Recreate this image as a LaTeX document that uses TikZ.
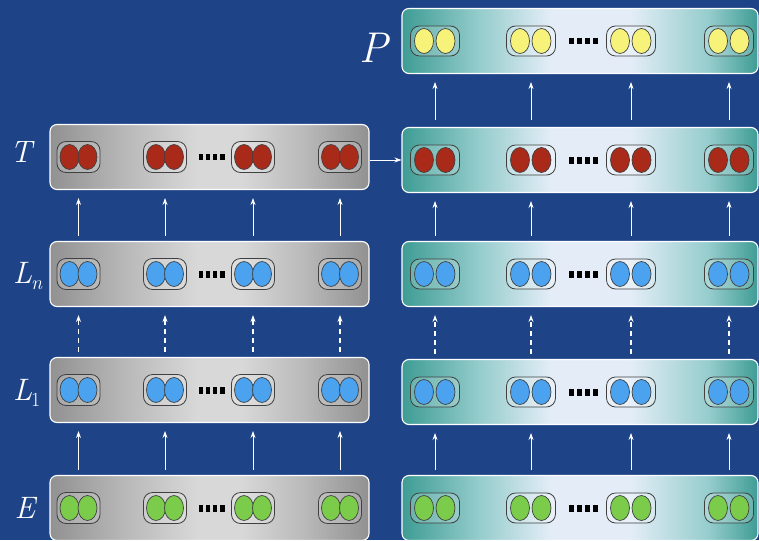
\documentclass[tikz,border=0pt]{standalone}
\usepackage{fontspec}
\usetikzlibrary{arrows.meta,shapes.geometric}
\definecolor{bgc}{RGB}{30,68,135}
\definecolor{grayedge}{RGB}{145,145,145}
\definecolor{graymid2}{RGB}{185,185,185}
\definecolor{graymid}{RGB}{216,216,216}
\definecolor{tealedge}{RGB}{62,156,148}
\definecolor{tealmid}{RGB}{150,205,205}
\definecolor{teallight}{RGB}{228,237,247}
\definecolor{redc}{RGB}{170,42,26}
\definecolor{bluec}{RGB}{75,163,240}
\definecolor{greenc}{RGB}{122,204,74}
\definecolor{yellowc}{RGB}{247,242,122}
\pgfdeclarehorizontalshading{graybar}{100bp}{color(0bp)=(grayedge); color(25bp)=(grayedge); color(37bp)=(graymid2); color(48bp)=(graymid); color(55bp)=(graymid); color(65bp)=(graymid2); color(75bp)=(grayedge); color(100bp)=(grayedge)}
\pgfdeclarehorizontalshading{tealbar}{100bp}{color(0bp)=(tealedge); color(25bp)=(tealedge); color(36bp)=(tealmid); color(46bp)=(teallight); color(57bp)=(teallight); color(68bp)=(tealmid); color(75bp)=(tealedge); color(100bp)=(tealedge)}
\newcommand{\subsz}{\fontsize{20}{20}\selectfont}
\tikzset{
  lbar/.style={draw=white, line width=1.1pt, rounded corners=7pt, shading=graybar, minimum width=319pt, minimum height=65pt, inner sep=0pt},
  rbar/.style={draw=white, line width=1.1pt, rounded corners=7pt, shading=tealbar, minimum width=356pt, minimum height=65pt, inner sep=0pt},
  lpill/.style={draw=black!75, line width=0.8pt, rounded corners=9pt, fill=white, fill opacity=0.2, draw opacity=1, minimum width=43pt, minimum height=31pt, inner sep=0pt},
  rpill/.style={draw=black!75, line width=0.8pt, rounded corners=9pt, fill=white, fill opacity=0.2, draw opacity=1, minimum width=49pt, minimum height=30pt, inner sep=0pt},
  ball/.style={ellipse, draw=black!75, line width=0.7pt, minimum width=19pt, minimum height=25pt, inner sep=0pt},
  arr/.style={draw=white, line width=0.8pt, -{Stealth[length=7pt,width=5pt]}, shorten <=5pt, shorten >=8pt},
  darr/.style={arr, line width=1.4pt, dash pattern=on 5pt off 4pt},
  lab/.style={text=white, inner sep=0pt, font=\fontsize{31}{31}\selectfont\itshape},
  sq/.style={fill=black}
}
\begin{document}
\begin{tikzpicture}[x=1pt,y=-1pt]
\useasboundingbox (0,0) rectangle (759,540);
\fill[bgc] (0,0) rectangle (759,540);
% left column
\foreach \r/\y/\c in {T/157/redc, Ln/274/bluec, L1/390/bluec, E/508/greenc} {
  \node[lbar] (l\r) at (209.5,\y) {};
  \foreach \x [count=\i] in {78.5,165,253,340} {
    \node[lpill] (l\r-\i) at (\x,\y) {};
    \node[ball, fill=\c] at ([xshift=-9pt]l\r-\i.center) {};
    \node[ball, fill=\c] at ([xshift=9pt]l\r-\i.center) {};
  }
  \foreach \k in {0,1,2,3}
    \fill[sq] ({198.5+\k*7.3},{\y-3}) rectangle ++(4.3,6.5);
}
% right column
\foreach \r/\y/\c in {P/41/yellowc, T/160/redc, Ln/274/bluec, L1/392/bluec, E/508/greenc} {
  \node[rbar] (r\r) at (580,\y) {};
  \foreach \x [count=\i] in {435,531,631,729} {
    \node[rpill] (r\r-\i) at (\x,\y) {};
    \node[ball, fill=\c] at ([xshift=-11pt]r\r-\i.center) {};
    \node[ball, fill=\c] at ([xshift=10.5pt]r\r-\i.center) {};
  }
  \foreach \k in {0,1,2,3}
    \fill[sq] ({569+\k*8},{\y-3}) rectangle ++(5,6.5);
}
% labels
\node[lab] (labT) at (21,152) {T};
\node[lab, anchor=base west] (labLn) at (13,283) {L\kern-1pt\raisebox{-6pt}{\subsz n}};
\node[lab, anchor=base west] (labL1) at (13,400) {L\kern-1pt\raisebox{-6pt}{\subsz\upshape 1}};
\node[lab] (labE) at (25,508) {E};
\node[lab, font=\fontsize{43}{43}\selectfont\itshape] (labP) at (374,48) {P};
% arrows
\foreach \i in {1,2,3,4} {
  \draw[arr] (lE.north -| lE-\i) -- (lL1.south -| lE-\i);
  \draw[darr] (lL1.north -| lL1-\i) -- (lLn.south -| lL1-\i);
  \draw[arr] (lLn.north -| lLn-\i) -- (lT.south -| lLn-\i);
  \draw[arr] (rE.north -| rE-\i) -- (rL1.south -| rE-\i);
  \draw[darr, line width=1.8pt] (rL1.north -| rL1-\i) -- (rLn.south -| rL1-\i);
  \draw[arr] (rLn.north -| rLn-\i) -- (rT.south -| rLn-\i);
  \draw[arr, shorten <=7pt] (rT.north -| rT-\i) -- (rP.south -| rT-\i);
}
\draw[arr, shorten <=0pt, shorten >=0pt] (lT.east |- rT.west) -- (rT.west);
\end{tikzpicture}
\end{document}
